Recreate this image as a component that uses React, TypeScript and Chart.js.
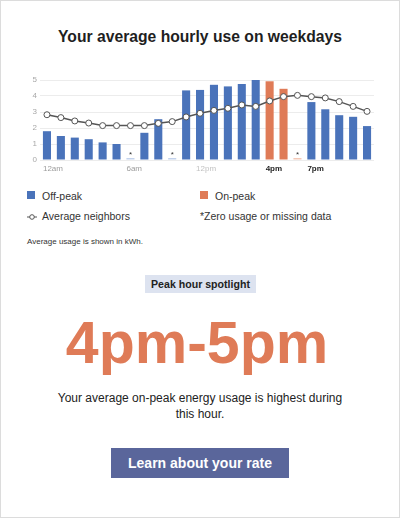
import React, { useEffect, useRef } from "react";
import { Chart, registerables } from "chart.js";

Chart.register(...registerables);

// ---- Data ----
const hours = [
  "12am", "1am", "2am", "3am", "4am", "5am", "6am", "7am", "8am", "9am", "10am", "11am",
  "12pm", "1pm", "2pm", "3pm", "4pm", "5pm", "6pm", "7pm", "8pm", "9pm", "10pm", "11pm",
];
const tickLabels = [
  "12am", "", "", "", "", "", "6am", "", "", "", "", "12pm",
  "", "", "", "", "4pm", "", "", "7pm", "", "", "", "",
];
const usage = [
  1.8, 1.5, 1.4, 1.3, 1.1, 1.0, 0, 1.7, 2.55, 0, 4.35, 4.38,
  4.7, 4.6, 4.75, 5.0, 4.92, 4.45, 0, 3.62, 3.17, 2.8, 2.7, 2.12,
];
const neighbors = [
  2.83, 2.65, 2.44, 2.31, 2.15, 2.15, 2.15, 2.15, 2.29, 2.4, 2.69, 2.92,
  3.1, 3.23, 3.44, 3.35, 3.69, 3.96, 4.04, 3.96, 3.88, 3.65, 3.35, 3.04,
];
const onPeakHours = [16, 17, 18];
const boldTickIndexes = [16, 19];
const yMax = 5;

const BLUE = "#4a73ba";
const BLUE_LIGHT = "#c3d2ec";
const ORANGE = "#df7b57";
const ORANGE_LIGHT = "#f4c8b6";
const FONT = "'Liberation Sans', Arial, Helvetica, sans-serif";

const asteriskPlugin = {
  id: "asterisks",
  afterDatasetsDraw(chart: any) {
    const meta = chart.getDatasetMeta(1);
    const ctx = chart.ctx;
    ctx.save();
    ctx.fillStyle = "#333";
    ctx.font = `8px ${FONT}`;
    ctx.textAlign = "center";
    ctx.textBaseline = "alphabetic";
    usage.forEach((v, i) => {
      if (v === 0) {
        const el = meta.data[i];
        ctx.fillText("*", el.x, el.y - 1);
      }
    });
    ctx.restore();
  },
};

function UsageChart() {
  const ref = useRef<HTMLCanvasElement>(null);
  useEffect(() => {
    if (!ref.current) return;
    Chart.defaults.font.family = FONT;
    const chart = new Chart(ref.current, {
      type: "bar",
      data: {
        labels: hours,
        datasets: [
          {
            type: "line",
            label: "Average neighbors",
            data: neighbors,
            borderColor: "#555",
            borderWidth: 1.5,
            pointRadius: 3,
            pointBorderWidth: 1,
            pointBackgroundColor: "#fff",
            pointBorderColor: "#555",
            tension: 0,
            order: 0,
          } as any,
          {
            type: "bar",
            label: "Usage",
            data: usage,
            backgroundColor: usage.map((v, i) =>
              onPeakHours.includes(i)
                ? v === 0 ? ORANGE_LIGHT : ORANGE
                : v === 0 ? BLUE_LIGHT : BLUE
            ),
            borderWidth: 0,
            minBarLength: 2,
            categoryPercentage: 1,
            barPercentage: 0.58,
            order: 1,
          } as any,
        ],
      },
      options: {
        responsive: false,
        animation: false,
        devicePixelRatio: 1,
        layout: { padding: { top: 11, right: 7, left: 0, bottom: 0 } },
        plugins: { legend: { display: false }, tooltip: { enabled: false } },
        scales: {
          x: {
            grid: { display: false, drawTicks: false },
            border: { display: false },
            afterFit: (s: any) => { s.height = 19; },
            ticks: {
              autoSkip: false,
              maxRotation: 0,
              minRotation: 0,
              align: "start",
              labelOffset: -4,
              padding: 4,
              callback: (_v: any, i: number) => tickLabels[i],
              color: (c: any) =>
                boldTickIndexes.includes(c.index) ? "#1e1e1e" : c.index === 11 ? "#c2c2c2" : "#9c9c9c",
              font: (c: any) => ({
                size: 8,
                weight: boldTickIndexes.includes(c.index) ? "bold" : "normal",
              }),
            },
          } as any,
          y: {
            min: 0,
            max: yMax,
            grid: { color: "#ececec", drawTicks: false },
            border: { display: false },
            afterFit: (s: any) => { s.width = 19; },
            ticks: { stepSize: 1, color: "#a8a8a8", font: { size: 8 }, padding: 3 },
          } as any,
        },
      },
      plugins: [asteriskPlugin],
    });
    return () => chart.destroy();
  }, []);
  return (
    <canvas
      ref={ref}
      width={360}
      height={110}
      style={{ position: "absolute", left: 20, top: 68, width: 360, height: 110 }}
    />
  );
}

const abs = (extra: React.CSSProperties): React.CSSProperties => ({ position: "absolute", ...extra });

export default function App() {
  return (
    <div
      style={{
        position: "absolute",
        left: 0,
        top: 0,
        width: 400,
        height: 518,
        boxSizing: "border-box",
        border: "1px solid #dcdcdc",
        background: "#fff",
        fontFamily: FONT,
        color: "#222",
        overflow: "hidden",
      }}
    >
      <div
        style={abs({
          left: -1, top: 28, width: 400, textAlign: "center",
          fontSize: 15.7, lineHeight: "15.7px", fontWeight: "bold", color: "#1f1f1f",
        })}
      >
        Your average hourly use on weekdays
      </div>

      <UsageChart />

      {/* Legend */}
      <div style={abs({ left: 26, top: 190, width: 8, height: 8, background: BLUE })} />
      <div style={abs({ left: 41, top: 190, fontSize: 10.5, lineHeight: "10.5px", color: "#333" })}>Off-peak</div>
      <div style={abs({ left: 199, top: 190, width: 8, height: 8, background: ORANGE })} />
      <div style={abs({ left: 214, top: 190, fontSize: 10.5, lineHeight: "10.5px", color: "#333" })}>On-peak</div>

      <svg style={abs({ left: 25, top: 211 })} width={12} height={10}>
        <line x1={1} y1={5} x2={11} y2={5} stroke="#555" strokeWidth={1} />
        <circle cx={6} cy={5} r={2.3} fill="#fff" stroke="#555" strokeWidth={1} />
      </svg>
      <div style={abs({ left: 41, top: 210, fontSize: 10.5, lineHeight: "10.5px", color: "#333" })}>Average neighbors</div>
      <div style={abs({ left: 199, top: 210, fontSize: 10.5, lineHeight: "10.5px", color: "#333" })}>*Zero usage or missing data</div>

      <div style={abs({ left: 26, top: 237, fontSize: 8, lineHeight: "8px", color: "#333" })}>Average usage is shown in kWh.</div>

      {/* Spotlight */}
      <div
        style={abs({
          left: 144, top: 274, width: 111, height: 18, lineHeight: "18px",
          background: "#dde3f0", textAlign: "center", fontSize: 10.6, fontWeight: "bold", color: "#222",
        })}
      >
        Peak hour spotlight
      </div>
      <div
        style={abs({
          left: -4, top: 313, width: 400, textAlign: "center",
          fontSize: 59, lineHeight: "59px", fontWeight: "bold", color: ORANGE,
        })}
      >
        4pm-5pm
      </div>
      <div
        style={abs({
          left: 49, top: 389, width: 300, textAlign: "center",
          fontSize: 12, lineHeight: "16px", color: "#222",
        })}
      >
        Your average on-peak energy usage is highest during this hour.
      </div>
      <div
        style={abs({
          left: 110, top: 447, width: 178, height: 30, lineHeight: "30px",
          background: "#5a669b", color: "#fff", textAlign: "center", fontSize: 14, fontWeight: "bold",
        })}
      >
        Learn about your rate
      </div>
    </div>
  );
}
